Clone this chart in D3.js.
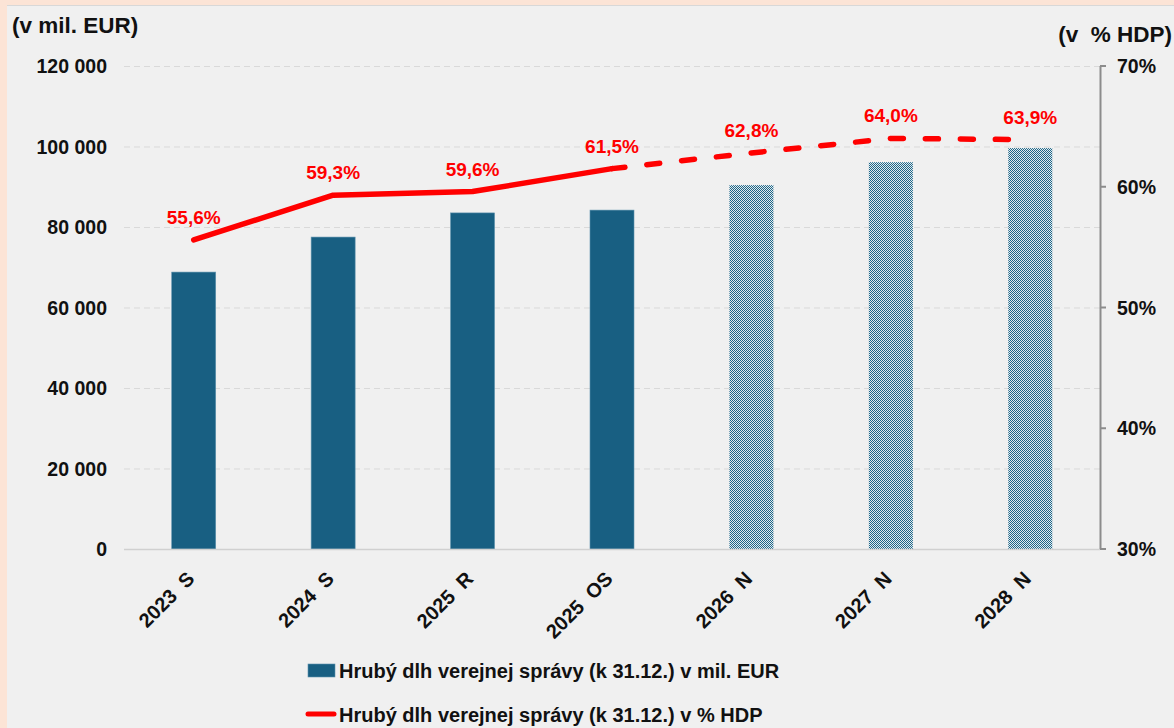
<!DOCTYPE html>
<html lang="sk">
<head>
<meta charset="UTF-8">
<title>Hrubý dlh verejnej správy</title>
<style>
  html, body { margin: 0; padding: 0; background: #fce4d6; }
  svg { display: block; font-family: "Liberation Sans", Arial, sans-serif; font-weight: bold; }
</style>
</head>
<body>
<script src="https://d3js.org/d3.v7.min.js"></script>
<div id="chart"></div>
<script>
// údaje
const roky = ["2023 S", "2024 S", "2025 R", "2025 OS", "2026 N", "2027 N", "2028 N"];
const dlhEur = [68800, 77500, 83500, 84200, 90400, 96100, 99600];
const dlhHdp = [55.6, 59.3, 59.6, 61.5, 62.8, 64.0, 63.9];
const prognoza = [false, false, false, false, true, true, true];
const tickyEur = [0, 20000, 40000, 60000, 80000, 100000, 120000];
const tickyHdp = [30, 40, 50, 60, 70];
const legenda = ["Hrubý dlh verejnej správy (k 31.12.) v mil. EUR",
                 "Hrubý dlh verejnej správy (k 31.12.) v % HDP"];

const W = 1174, H = 728;
const mLeft = 124, mRight = 1100, mTop = 66, mBottom = 549;

const svg = d3.select("#chart").append("svg")
  .attr("width", W).attr("height", H);

// pozadie
svg.append("rect").attr("x", 7).attr("y", 5).attr("width", W - 7).attr("height", H - 5)
  .attr("fill", "#f0f0f0");
svg.append("line").attr("x1", 7).attr("x2", W).attr("y1", 5.5).attr("y2", 5.5)
  .attr("stroke", "#d8d8d8");

// vzor pre prognózu
const defs = svg.append("defs");
const pat = defs.append("pattern").attr("id", "sraf")
  .attr("patternUnits", "userSpaceOnUse").attr("width", 2).attr("height", 2);
pat.append("rect").attr("width", 2).attr("height", 2).attr("fill", "#e2ebf0");
pat.append("rect").attr("width", 1).attr("height", 1).attr("fill", "#1d6586");
pat.append("rect").attr("x", 1).attr("y", 1).attr("width", 1).attr("height", 1).attr("fill", "#1d6586");

const x = d3.scaleBand().domain(roky).range([mLeft, mRight]);
const y = d3.scaleLinear().domain([0, 120000]).range([mBottom, mTop]);
const y2 = d3.scaleLinear().domain([30, 70]).range([mBottom, mTop]);

// mriežka
svg.append("g").selectAll("line")
  .data(tickyEur.filter(d => d > 0))
  .enter().append("line")
  .attr("x1", mLeft).attr("x2", mRight)
  .attr("y1", d => y(d) + 0.5).attr("y2", d => y(d) + 0.5)
  .attr("stroke", "#d9d9d9").attr("stroke-dasharray", "6,4");

// ľavá os
svg.append("g").selectAll("text")
  .data(tickyEur).enter().append("text")
  .attr("x", 107).attr("y", d => y(d) + 7)
  .attr("text-anchor", "end").attr("font-size", 19.5).attr("fill", "#111")
  .text(d => d3.format(",")(d).replace(/,/g, " "));

// stĺpce
const bw = 44;
svg.append("g").selectAll("rect")
  .data(roky).enter().append("rect")
  .attr("x", d => x(d) + x.bandwidth() / 2 - bw / 2)
  .attr("y", (d, i) => y(dlhEur[i]))
  .attr("width", bw)
  .attr("height", (d, i) => mBottom - y(dlhEur[i]))
  .attr("fill", (d, i) => prognoza[i] ? "url(#sraf)" : "#185f82")
  .attr("stroke", (d, i) => prognoza[i] ? "none" : "#5f93ae")
  .attr("stroke-width", 0.6);

// nulová os
svg.append("line").attr("x1", mLeft).attr("x2", mRight)
  .attr("y1", mBottom + 0.5).attr("y2", mBottom + 0.5)
  .attr("stroke", "#d0d0d0").attr("stroke-width", 1.5);

// pravá os
const ax2 = svg.append("g");
ax2.append("line").attr("x1", mRight + 0.5).attr("x2", mRight + 0.5)
  .attr("y1", mTop).attr("y2", mBottom).attr("stroke", "#8c8c8c").attr("stroke-width", 2);
ax2.selectAll("line.t").data(tickyHdp).enter().append("line")
  .attr("x1", mRight).attr("x2", mRight + 6)
  .attr("y1", d => y2(d)).attr("y2", d => y2(d))
  .attr("stroke", "#8c8c8c").attr("stroke-width", 2);
ax2.selectAll("text").data(tickyHdp).enter().append("text")
  .attr("x", 1117).attr("y", d => y2(d) + 7)
  .attr("font-size", 19.5).attr("fill", "#111")
  .text(d => d + "%");

// popisy osi x
svg.append("g").selectAll("text")
  .data(roky).enter().append("text")
  .attr("transform", d => "translate(" + (x(d) + x.bandwidth() / 2 + 2) + "," + 580 + ") rotate(-45)")
  .attr("text-anchor", "end").attr("font-size", 20).attr("fill", "#111")
  .style("white-space", "pre")
  .text(d => d.replace(" ", "  "));

// línia v % HDP
const body = roky.map((d, i) => [x(d) + x.bandwidth() / 2, y2(dlhHdp[i])]);
const linka = d3.line();
const iOS = 3;
svg.append("path").attr("d", linka(body.slice(0, iOS + 1)))
  .attr("fill", "none").attr("stroke", "#ff0000").attr("stroke-width", 5.5)
  .attr("stroke-linecap", "round").attr("stroke-linejoin", "round");
svg.append("path").attr("d", linka(body.slice(iOS)))
  .attr("fill", "none").attr("stroke", "#ff0000").attr("stroke-width", 5.5)
  .attr("stroke-linecap", "round").attr("stroke-dasharray", "13,22");

// hodnoty
svg.append("g").selectAll("text")
  .data(roky).enter().append("text")
  .attr("x", d => x(d) + x.bandwidth() / 2)
  .attr("y", (d, i) => y2(dlhHdp[i]) - 16)
  .attr("text-anchor", "middle").attr("font-size", 19).attr("fill", "#ff0000")
  .text((d, i) => d3.format(".1f")(dlhHdp[i]).replace(".", ",") + "%");

// názvy osí
svg.append("text").attr("x", 12).attr("y", 33).attr("font-size", 22.5).attr("fill", "#111")
  .text("(v mil. EUR)");
svg.append("text").attr("x", 1172).attr("y", 42).attr("text-anchor", "end")
  .attr("font-size", 22.5).attr("fill", "#111").style("white-space", "pre")
  .text("(v  % HDP)");

// legenda
const leg = svg.append("g");
leg.append("rect").attr("x", 308).attr("y", 664).attr("width", 27).attr("height", 13)
  .attr("fill", "#185f82").attr("stroke", "#5f93ae").attr("stroke-width", 0.6);
leg.append("line").attr("x1", 308).attr("x2", 334).attr("y1", 714).attr("y2", 714)
  .attr("stroke", "#ff0000").attr("stroke-width", 5).attr("stroke-linecap", "round");
leg.selectAll("text").data(legenda).enter().append("text")
  .attr("x", 339).attr("y", (d, i) => 678 + i * 44)
  .attr("font-size", 20).attr("fill", "#111")
  .text(d => d);
</script>
</body>
</html>
